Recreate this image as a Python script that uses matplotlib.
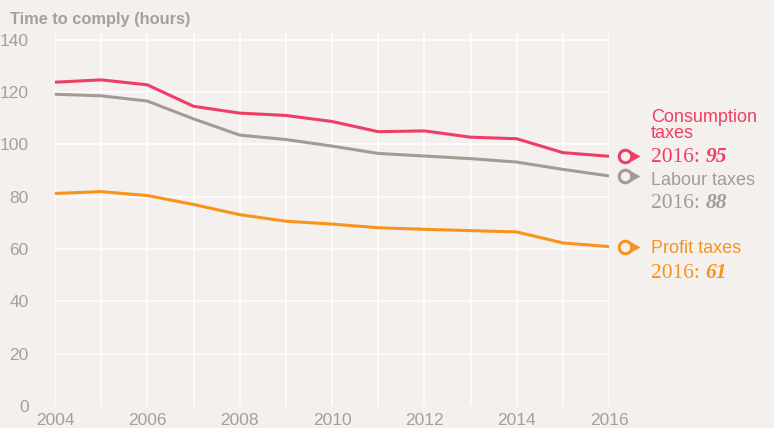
import numpy as np
import matplotlib.pyplot as plt
import matplotlib.transforms as mtransforms
from matplotlib.path import Path

years = list(range(2004, 2017))
consumption = [123.7, 124.6, 122.7, 114.5, 111.9, 111.0, 108.7, 104.8, 105.1, 102.7, 102.1, 96.8, 95.4]
labour = [119.1, 118.5, 116.5, 109.7, 103.5, 101.8, 99.3, 96.5, 95.5, 94.5, 93.2, 90.4, 87.9]
profit = [81.2, 81.9, 80.4, 77.0, 73.1, 70.6, 69.5, 68.1, 67.5, 67.0, 66.5, 62.3, 60.9]
y_ticks = [0, 20, 40, 60, 80, 100, 120, 140]
x_ticks = [2004, 2006, 2008, 2010, 2012, 2014, 2016]

bg = '#f3f0ed'
grey_txt = '#a89f98'
col_cons = '#ef3e66'
col_lab = '#a59b93'
col_prof = '#f7941d'

# pointer triangle, origin at middle of its base
tri = Path([(0, -1), (1.8, 0), (0, 1), (0, -1)])

fig = plt.figure(figsize=(7.74, 4.28), dpi=100, facecolor=bg)
ax = fig.add_axes([55 / 774, 22 / 428, (609 - 55) / 774, (406 - 33) / 428])
ax.set_facecolor(bg)

for s in ax.spines.values():
    s.set_visible(False)

ax.set_xlim(2004, 2016)
ax.set_ylim(0, 142.5)
ax.set_xticks(x_ticks)
ax.set_xticks(years, minor=True)
ax.set_yticks(y_ticks)
ax.tick_params(which='both', length=0, labelsize=12.5, labelcolor=grey_txt)
ax.tick_params(axis='y', pad=19)
ax.tick_params(axis='x', pad=5)
for lab in ax.get_xticklabels() + ax.get_yticklabels():
    lab.set_family('Liberation Sans')

ax.grid(True, which='both', axis='x', color='white', linewidth=1.1)
ax.grid(True, axis='y', color='white', linewidth=1.1)
ax.yaxis.get_gridlines()[0].set_visible(False)
ax.set_axisbelow(True)

series = [
    (consumption, col_cons, ['Consumption', 'taxes'], [34.6, 18.6], -5.5),
    (labour, col_lab, ['Labour taxes'], [-8.8], -31.8),
    (profit, col_prof, ['Profit taxes'], [-6.2], -31.2),
]

circ_tr = mtransforms.offset_copy(ax.transData, fig=fig, x=15.5, y=0, units='dots')
tri_tr = mtransforms.offset_copy(ax.transData, fig=fig, x=22, y=0, units='dots')

for vals, c, names, name_dy, val_dy in series:
    ax.plot(years, vals, color=c, linewidth=2.2, solid_capstyle='butt', zorder=3)
    ax.plot([years[-1]], [vals[-1]], marker=tri, markersize=13, markeredgewidth=0,
            markerfacecolor=c, transform=tri_tr, clip_on=False, linestyle='none', zorder=4)
    ax.plot([years[-1]], [vals[-1]], marker='o', markersize=9, markeredgewidth=2.2,
            markeredgecolor=c, markerfacecolor=bg, transform=circ_tr, clip_on=False,
            linestyle='none', zorder=5)
    for nm, dy in zip(names, name_dy):
        ax.annotate(nm, xy=(years[-1], vals[-1]), xytext=(42, dy), textcoords='offset pixels',
                    color=c, fontsize=13, family='Liberation Sans', va='baseline', ha='left',
                    annotation_clip=False)
    t1 = ax.annotate('2016: ', xy=(years[-1], vals[-1]), xytext=(42, val_dy),
                     textcoords='offset pixels', color=c, fontsize=15.5,
                     family='Liberation Serif', va='baseline', ha='left', annotation_clip=False)
    ax.annotate(f'{round(vals[-1])}', xy=(1, 0), xycoords=t1, color=c, fontsize=15.5,
                family='Liberation Serif', weight='bold', style='italic', va='bottom', ha='left',
                annotation_clip=False)

fig.text(10 / 774, 1 - 24 / 428, 'Time to comply (hours)', color=grey_txt, fontsize=11.8,
         family='Liberation Sans', weight='bold', va='baseline', ha='left')

fig.savefig('out.png', dpi=100, facecolor=bg)
